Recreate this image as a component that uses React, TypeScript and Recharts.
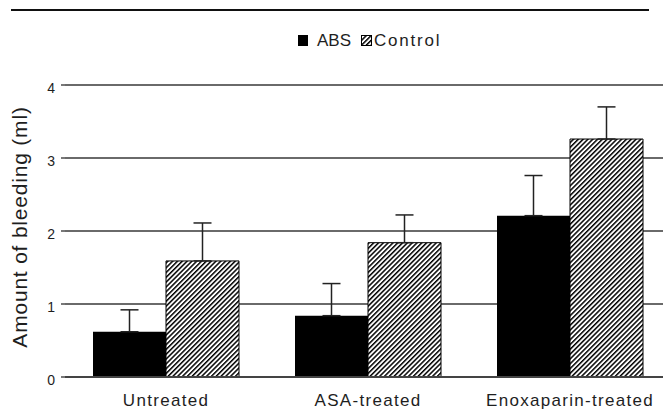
import React from 'react';
import { BarChart, Bar, XAxis, YAxis, CartesianGrid, ErrorBar, Legend } from 'recharts';

const categories = ['Untreated', 'ASA-treated', 'Enoxaparin-treated'];
const absValues = [0.62, 0.84, 2.21];
const absErrors = [0.3, 0.44, 0.55];
const controlValues = [1.59, 1.84, 3.26];
const controlErrors = [0.52, 0.38, 0.44];
const yTicks = [0, 1, 2, 3, 4];
const seriesNames = ['ABS', 'Control'];
const yLabel = 'Amount of bleeding (ml)';

const data = categories.map((c, i) => ({
  category: c,
  abs: absValues[i],
  absErr: [0, absErrors[i]],
  control: controlValues[i],
  controlErr: [0, controlErrors[i]],
}));

const FONT = '"Liberation Sans", Arial, sans-serif';
const TEXT = '#1e1e1e';

const LegendContent = () => (
  <div style={{ position: 'relative', width: 680, height: 24, fontFamily: FONT, fontSize: 17, color: TEXT }}>
    <span style={{ position: 'absolute', left: 298, top: 4, width: 10, height: 11, background: '#000' }} />
    <span style={{ position: 'absolute', left: 317, top: 0, lineHeight: '20px', whiteSpace: 'nowrap' }}>{seriesNames[0]}</span>
    <svg style={{ position: 'absolute', left: 361, top: 4 }} width={11} height={11}>
      <rect x={0.5} y={0.5} width={10} height={10} fill="url(#hatch)" stroke="#000" strokeWidth={1} />
    </svg>
    <span style={{ position: 'absolute', left: 374, top: 0, lineHeight: '20px', letterSpacing: 1.8, whiteSpace: 'nowrap' }}>{seriesNames[1]}</span>
  </div>
);

const XTick = (props: any) => {
  const { x, y, payload } = props;
  return (
    <text x={x} y={y} dy={29} textAnchor="middle" fontFamily={FONT} fontSize={17} letterSpacing={1.3} fill={TEXT}>
      {payload.value}
    </text>
  );
};

const YTick = (props: any) => {
  const { x, y, payload } = props;
  return (
    <text x={x} y={y} dy={8} textAnchor="end" fontFamily={FONT} fontSize={14} fill={TEXT}>
      {payload.value}
    </text>
  );
};

const YLabel = (props: any) => {
  const vb = props.viewBox || { x: 0, y: 85, width: 65, height: 292 };
  const x = vb.x + 27;
  const y = vb.y + vb.height / 2 - 4;
  return (
    <text
      x={x}
      y={y}
      transform={`rotate(-90, ${x}, ${y})`}
      textAnchor="middle"
      fontFamily={FONT}
      fontSize={21}
      letterSpacing={0.8}
      fill={TEXT}
    >
      {yLabel}
    </text>
  );
};

export default function App() {
  return (
    <div style={{ position: 'fixed', left: 0, top: 0, width: 663, height: 410, overflow: 'hidden', background: '#fff' }}>
      <div style={{ position: 'absolute', left: 11, top: 9, width: 638, height: 1.5, background: '#111' }} />
      <BarChart
        width={680}
        height={410}
        data={data}
        margin={{ top: 85, right: 9, bottom: 0, left: 0 }}
        barGap={0}
        barSize={73}
      >
        <defs>
          <pattern id="hatch" patternUnits="userSpaceOnUse" width={3.4} height={3.4} patternTransform="rotate(45)">
            <rect x={0} y={0} width={3.4} height={3.4} fill="#fff" />
            <line x1={0} y1={0} x2={0} y2={3.4} stroke="#000" strokeWidth={3} />
          </pattern>
        </defs>
        <CartesianGrid horizontal vertical={false} stroke="#6a6a6a" strokeWidth={1.8} />
        <XAxis
          dataKey="category"
          height={33}
          tickLine={false}
          tickSize={0}
          tickMargin={0}
          axisLine={{ stroke: '#444', strokeWidth: 1.8 }}
          tick={<XTick />}
          interval={0}
        />
        <YAxis
          width={65}
          domain={[0, 4]}
          ticks={yTicks}
          axisLine={false}
          tickLine={{ stroke: '#6a6a6a', strokeWidth: 1.8 }}
          tickSize={4}
          tickMargin={6}
          tick={<YTick />}
          label={{ content: <YLabel /> }}
        />
        <Legend
          layout="horizontal"
          verticalAlign="middle"
          align="center"
          content={<LegendContent />}
          wrapperStyle={{ top: 31, left: 0, width: 680, height: 24 }}
        />
        <Bar dataKey="abs" name={seriesNames[0]} fill="#000" isAnimationActive={false}>
          <ErrorBar dataKey="absErr" width={9} stroke="#222" strokeWidth={1.5} isAnimationActive={false} />
        </Bar>
        <Bar dataKey="control" name={seriesNames[1]} fill="url(#hatch)" stroke="#000" strokeWidth={1} isAnimationActive={false}>
          <ErrorBar dataKey="controlErr" width={9} stroke="#222" strokeWidth={1.5} isAnimationActive={false} />
        </Bar>
      </BarChart>
    </div>
  );
}
